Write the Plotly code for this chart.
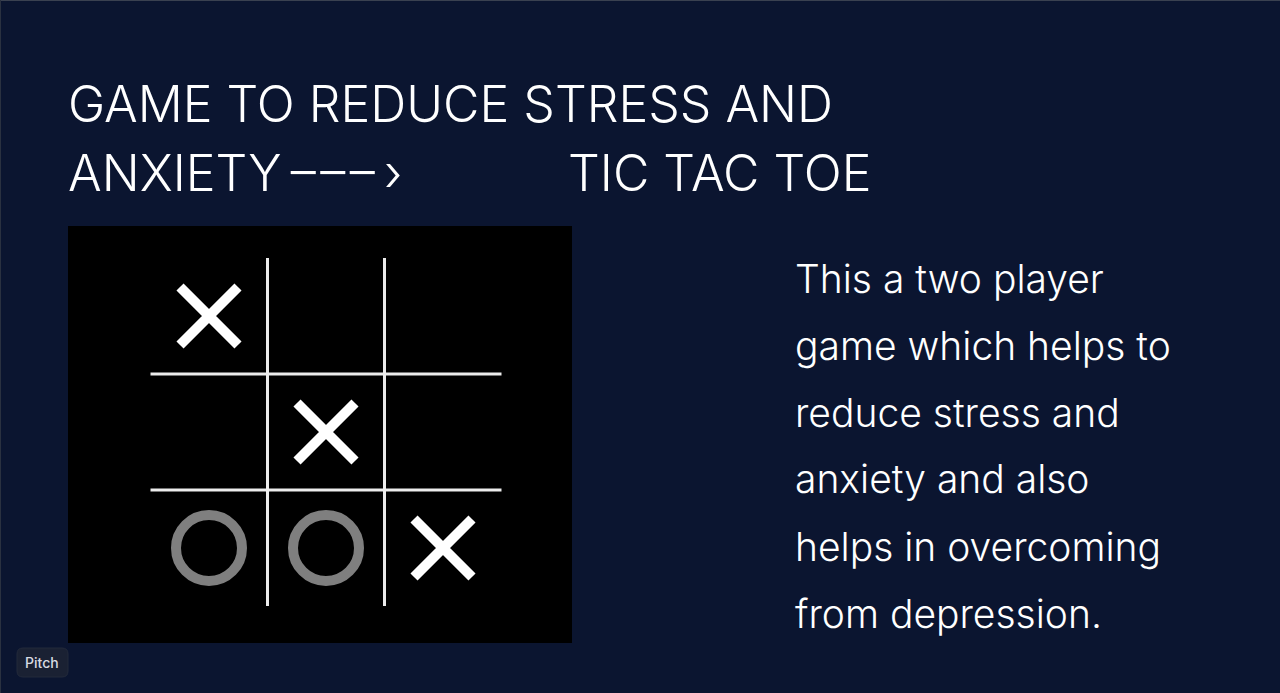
import plotly.graph_objects as go

# board moves (column, row) with row 0 at the top
x_cols = [0, 1, 2]
x_rows = [0, 1, 2]
o_cols = [0, 1]
o_rows = [2, 2]

grid_pos = [0.5, 1.5]

title_line1 = "GAME TO REDUCE STRESS AND"
title_line2a = "ANXIETY\u2009\u2013\u200a\u2013\u200a\u2013\u200a\u200a\u203a"
title_line2b = "TIC TAC TOE"

body_lines = [
    "This a two player",
    "game which helps to",
    "reduce stress and",
    "anxiety and also",
    "helps in overcoming",
    "from depression.",
]

W, H = 1280, 693
BG = "#0b1530"
FONT = "Inter"

fig = go.Figure()

# grid lines
for g in grid_pos:
    fig.add_trace(go.Scatter(x=[g, g], y=[-0.5, 2.5], mode="lines",
                             line=dict(color="#ececec", width=3), hoverinfo="skip"))
    fig.add_trace(go.Scatter(x=[-0.5, 2.5], y=[g, g], mode="lines",
                             line=dict(color="#ececec", width=3), hoverinfo="skip"))

fig.add_trace(go.Scatter(x=o_cols, y=o_rows, mode="markers",
                         marker=dict(symbol="circle-open", size=66, color="#7f7f7f",
                                     line=dict(width=10, color="#7f7f7f")),
                         hoverinfo="skip"))
fig.add_trace(go.Scatter(x=x_cols, y=x_rows, mode="markers",
                         marker=dict(symbol="x-thin", size=58, color="white",
                                     line=dict(width=10, color="white")),
                         hoverinfo="skip"))

# board panel in pixels: x 68..572, y 226..643
fig.update_xaxes(domain=[68 / W, 572 / W], range=[(68 - 209) / 117, (572 - 209) / 117],
                 visible=False, fixedrange=True)
fig.update_yaxes(domain=[(H - 643) / H, (H - 226) / H], range=[(643 - 316) / 116, (226 - 316) / 116],
                 visible=False, fixedrange=True)


def px_y(y):
    return 1 - y / H


def label(text, x, y, size, color="white", weight=300):
    fig.add_annotation(text=text, x=x / W, y=px_y(y), xref="paper", yref="paper",
                       xanchor="left", yanchor="middle", showarrow=False,
                       font=dict(family=FONT, size=size, color=color, weight=weight))


label(title_line1, 66, 104, 50)
label(title_line2a, 66, 173, 50)
label(title_line2b, 566, 173, 50)

for i, line in enumerate(body_lines):
    label(line, 793, 278 + i * 67, 39)

# "Pitch" badge, rounded rect drawn in paper coords
bx0, bx1, by0, by1, r = 17, 68, 648, 677, 6
rx, ry = r / W, r / H
x0, x1, y0, y1 = bx0 / W, bx1 / W, px_y(by1), px_y(by0)
path = (f"M{x0 + rx},{y0} L{x1 - rx},{y0} Q{x1},{y0} {x1},{y0 + ry} "
        f"L{x1},{y1 - ry} Q{x1},{y1} {x1 - rx},{y1} L{x0 + rx},{y1} "
        f"Q{x0},{y1} {x0},{y1 - ry} L{x0},{y0 + ry} Q{x0},{y0} {x0 + rx},{y0} Z")
fig.add_shape(type="path", xref="paper", yref="paper", path=path,
              fillcolor="#1a2133", line=dict(color="#232a3b", width=1))
label("Pitch", 23, 662, 14, color="#d8dbe2", weight=500)

# thin frame at the top and left edge
fig.add_shape(type="line", xref="paper", yref="paper", x0=0, x1=1, y0=1, y1=1,
              line=dict(color="#3a4150", width=2))
fig.add_shape(type="line", xref="paper", yref="paper", x0=0, x1=0, y0=0, y1=1,
              line=dict(color="#2a3140", width=2))

fig.update_layout(
    width=W, height=H,
    margin=dict(l=0, r=0, t=0, b=0),
    paper_bgcolor=BG,
    plot_bgcolor="black",
    showlegend=False,
)

fig.write_html("out.html", config={"displayModeBar": False},
               post_script="document.body.style.margin='0';document.body.style.overflow='hidden';")
